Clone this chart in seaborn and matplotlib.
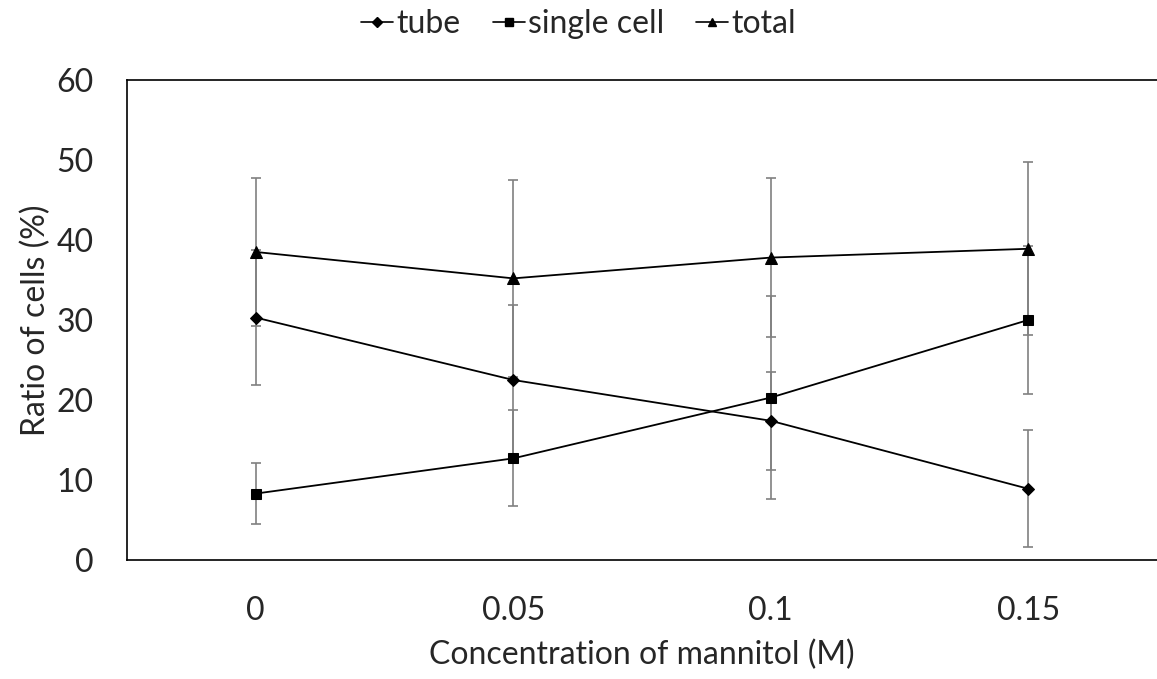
import numpy as np
import pandas as pd
import matplotlib
matplotlib.use("Agg")
import matplotlib.pyplot as plt
from matplotlib.lines import Line2D
import seaborn as sns

# data
conc = ["0", "0.05", "0.1", "0.15"]
series = ["tube", "single cell", "total"]
tube = [30.3, 22.5, 17.4, 8.9]
tube_err = [8.4, 9.4, 6.1, 7.3]
single = [8.3, 12.7, 20.3, 30.0]
single_err = [3.8, 6.0, 12.7, 9.2]
total = [38.5, 35.2, 37.8, 38.9]
total_err = [9.3, 12.3, 9.9, 10.8]

markers = {"tube": "D", "single cell": "s", "total": "^"}
msizes = {"tube": 6, "single cell": 7.5, "total": 8}

df = pd.DataFrame({
    "conc": conc * 3,
    "series": np.repeat(series, len(conc)),
    "value": tube + single + total,
    "err": tube_err + single_err + total_err,
})

sns.set_style("white")
plt.rcParams["font.family"] = ["Lato", "DejaVu Sans"]
fs = 23

fig = plt.figure(figsize=(11.57, 6.79), dpi=100)
ax = fig.add_axes([0.1098, 0.1753, 0.8902, 0.7069])

# error bars first, grey with caps
for s in series:
    sub = df[df.series == s]
    ax.errorbar(sub.conc, sub.value, yerr=sub.err, fmt="none", ecolor="#808080",
                elinewidth=1.2, capsize=3.8, capthick=1.2, zorder=1)

for s in series:
    sub = df[df.series == s]
    sns.lineplot(data=sub, x="conc", y="value", color="black", linewidth=1.3,
                 marker=markers[s], markersize=msizes[s], markeredgecolor="black",
                 sort=False, ax=ax, zorder=3, legend=False)

ax.set_xlim(-0.5, 3.5)
ax.set_ylim(0, 60)
ax.set_yticks(range(0, 61, 10))
ax.tick_params(axis="y", direction="in", length=8, width=1, labelsize=fs, pad=24)
ax.tick_params(axis="x", length=0, labelsize=fs, pad=26)
ax.set_xlabel("Concentration of mannitol (M)", fontsize=fs, labelpad=10)
ax.set_ylabel("Ratio of cells (%)", fontsize=fs, labelpad=4)

for sp in ["left", "bottom", "top"]:
    ax.spines[sp].set_color("black")
    ax.spines[sp].set_linewidth(1.2)
ax.spines["right"].set_visible(False)

handles = [Line2D([], [], color="black", linewidth=1.2, marker=markers[s],
                  markersize=msizes[s] * 0.8) for s in series]
fig.legend(handles, series, loc="center", bbox_to_anchor=(0.5, 0.965), ncol=3,
           frameon=False, fontsize=fs, handlelength=1.0, handletextpad=0.1,
           columnspacing=1.0)

fig.savefig("out.png", dpi=100)
